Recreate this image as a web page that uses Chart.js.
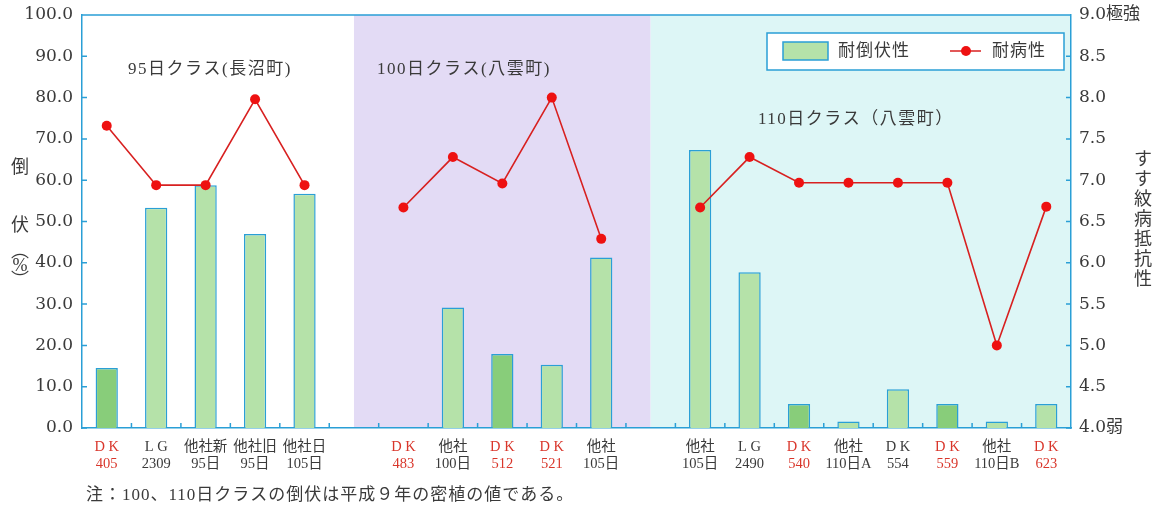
<!DOCTYPE html>
<html lang="ja">
<head>
<meta charset="utf-8">
<script src="https://cdn.jsdelivr.net/npm/chart.js@4/dist/chart.umd.min.js"></script>
<style>
  html, body { margin: 0; padding: 0; background: #fff; }
  #wrap { width: 1162px; height: 510px; position: relative; }
</style>
</head>
<body>
<div id="wrap"><canvas id="chart"></canvas></div>
<script>
// ==========================
// DATA
// ==========================
const varieties = [
  ["D K", "405"], ["L G", "2309"], ["他社新", "95日"], ["他社旧", "95日"], ["他社日", "105日"],
  ["", ""],
  ["D K", "483"], ["他社", "100日"], ["D K", "512"], ["D K", "521"], ["他社", "105日"],
  ["", ""],
  ["他社", "105日"], ["L G", "2490"], ["D K", "540"], ["他社", "110日A"],
  ["D K", "554"], ["D K", "559"], ["他社", "110日B"], ["D K", "623"],
];
// lodging (%) - left axis
const lodging = [14.5, 53.3, 58.8, 47.0, 56.7, null, null, 29.2, 17.9, 15.3, 41.3, null,
  67.3, 37.7, 5.8, 1.6, 9.4, 5.8, 1.6, 5.8];
// leaf blight resistance - right axis
const resistance = [7.66, 6.94, 6.94, 7.98, 6.94, null, 6.67, 7.28, 6.96, 8.0, 6.29, null,
  6.67, 7.28, 6.97, 6.97, 6.97, 6.97, 5.0, 6.68];
const redLabels = [0, 6, 8, 9, 14, 17, 19];   // own varieties shown in red
const darkBars = [0, 8, 14, 17];
const groupLabels = ["95日クラス(長沼町)", "100日クラス(八雲町)", "110日クラス（八雲町）"];
const leftTicks = { min: 0, max: 100, step: 10 };
const rightTicks = { min: 4, max: 9, step: 0.5 };

// ==========================
// STYLE
// ==========================
const AXIS = "#2a9fd6";
const TEXT = "#3a3a3a";
const RED_TXT = "#d9362b";
const NUM_FONT = '"DejaVu Serif", "Noto Sans CJK JP", serif';
const JP_FONT = '"Liberation Serif", "Noto Sans CJK JP", serif';

const barColors = lodging.map((v, i) => (darkBars.includes(i) ? "#88cd7a" : "#b5e2a9"));

// ==========================
// DECORATION PLUGIN
// ==========================
const decor = {
  id: "decor",
  beforeDraw(chart) {
    const { ctx, chartArea: a, scales: { x } } = chart;
    const b1 = x.getPixelForValue(5);
    const b2 = x.getPixelForValue(11);
    ctx.save();
    ctx.fillStyle = "#ffffff";
    ctx.fillRect(a.left, a.top, b1 - a.left, a.bottom - a.top);
    ctx.fillStyle = "#e3dbf5";
    ctx.fillRect(b1, a.top, b2 - b1, a.bottom - a.top);
    ctx.fillStyle = "#ddf6f6";
    ctx.fillRect(b2, a.top, a.right - b2, a.bottom - a.top);
    ctx.restore();
  },
  afterDraw(chart) {
    const { ctx, chartArea: a, scales: { x, y, y1 } } = chart;
    ctx.save();

    // top frame + inside tick marks
    ctx.strokeStyle = AXIS;
    ctx.lineWidth = 1.5;
    ctx.beginPath();
    ctx.moveTo(a.left, a.top);
    ctx.lineTo(a.right, a.top);
    const step = x.getPixelForValue(1) - x.getPixelForValue(0);
    for (let i = 1; i < varieties.length; i++) {
      const px = x.getPixelForValue(i) - step / 2;
      ctx.moveTo(px, a.bottom);
      ctx.lineTo(px, a.bottom - 5);
    }
    for (let v = leftTicks.min; v <= leftTicks.max; v += leftTicks.step) {
      const py = y.getPixelForValue(v);
      ctx.moveTo(a.left, py);
      ctx.lineTo(a.left + 5, py);
    }
    for (let v = rightTicks.min; v <= rightTicks.max; v += rightTicks.step) {
      const py = y1.getPixelForValue(v);
      ctx.moveTo(a.right, py);
      ctx.lineTo(a.right - 5, py);
    }
    ctx.stroke();

    // group titles
    ctx.fillStyle = TEXT;
    ctx.font = "17px " + JP_FONT;
    ctx.textBaseline = "middle";
    ctx.textAlign = "left";
    ctx.letterSpacing = "1.5px";
    ctx.fillText(groupLabels[0], 128, 70);
    ctx.fillText(groupLabels[1], 377, 70);
    ctx.fillText(groupLabels[2], 758, 120);

    // footnote
    ctx.font = "17px " + JP_FONT;
    ctx.letterSpacing = "1px";
    ctx.fillText("注：100、110日クラスの倒伏は平成９年の密植の値である。", 86, 496);
    ctx.letterSpacing = "0px";

    // left axis title (vertical)
    ctx.textAlign = "center";
    ctx.font = "18px " + JP_FONT;
    ctx.fillText("倒", 20, 168);
    ctx.fillText("伏", 20, 226);
    ctx.fillText("︵", 20, 252);
    ctx.fillText("%", 20, 266);
    ctx.fillText("︶", 20, 281);

    // right axis title (vertical)
    ctx.font = "18px " + JP_FONT;
    "すす紋病抵抗性".split("").forEach((ch, i) => {
      ctx.fillText(ch, 1143, 160 + i * 20);
    });

    // legend box
    ctx.fillStyle = "#ffffff";
    ctx.fillRect(767, 33, 297, 37);
    ctx.strokeStyle = AXIS;
    ctx.lineWidth = 1.5;
    ctx.strokeRect(767, 33, 297, 37);
    ctx.fillStyle = "#b5e2a9";
    ctx.fillRect(783, 42, 45, 18);
    ctx.strokeRect(783, 42, 45, 18);
    ctx.fillStyle = TEXT;
    ctx.textAlign = "left";
    ctx.font = "17px " + JP_FONT;
    ctx.letterSpacing = "1px";
    ctx.fillText("耐倒伏性", 838, 52);
    ctx.fillText("耐病性", 992, 52);
    ctx.letterSpacing = "0px";
    ctx.strokeStyle = "#d82020";
    ctx.beginPath();
    ctx.moveTo(950, 51);
    ctx.lineTo(981, 51);
    ctx.stroke();
    ctx.fillStyle = "#ee1111";
    ctx.beginPath();
    ctx.arc(966, 51, 5, 0, Math.PI * 2);
    ctx.fill();

    ctx.restore();
  },
};

// ==========================
// CHART
// ==========================
new Chart(document.getElementById("chart"), {
  data: {
    labels: varieties,
    datasets: [
      {
        type: "line",
        label: "耐病性",
        data: resistance,
        yAxisID: "y1",
        borderColor: "#d82020",
        borderWidth: 1.6,
        pointRadius: 5,
        pointBackgroundColor: "#ee1111",
        pointBorderWidth: 0,
        spanGaps: false,
        tension: 0,
        order: 0,
      },
      {
        type: "bar",
        label: "耐倒伏性",
        data: lodging,
        yAxisID: "y",
        backgroundColor: barColors,
        borderColor: AXIS,
        borderWidth: 1.5,
        borderSkipped: "bottom",
        categoryPercentage: 1,
        barPercentage: 0.45,
        order: 1,
      },
    ],
  },
  options: {
    responsive: true,
    maintainAspectRatio: false,
    animation: false,
    layout: { padding: { top: 15, left: 0, right: 0, bottom: 0 } },
    plugins: { legend: { display: false }, tooltip: { enabled: false } },
    scales: {
      x: {
        afterFit: (s) => { s.height = 82; },
        grid: { display: false, drawTicks: false },
        border: { display: true, color: AXIS, width: 1.5 },
        ticks: {
          padding: 10,
          autoSkip: false,
          maxRotation: 0,
          font: { family: JP_FONT, size: 14.5, lineHeight: 1.2 },
          color: (c) => (redLabels.includes(c.index) ? RED_TXT : TEXT),
        },
      },
      y: {
        position: "left",
        min: leftTicks.min,
        max: leftTicks.max,
        afterFit: (s) => { s.width = 82; s.paddingTop = 0; s.paddingBottom = 0; },
        grid: { display: false, drawTicks: false },
        border: { display: true, color: AXIS, width: 1.5 },
        ticks: {
          stepSize: leftTicks.step,
          padding: 9,
          color: TEXT,
          font: { family: NUM_FONT, size: 17, lineHeight: 1 },
          callback: (v) => v.toFixed(1),
        },
      },
      y1: {
        position: "right",
        min: rightTicks.min,
        max: rightTicks.max,
        afterFit: (s) => { s.width = 91; s.paddingTop = 0; s.paddingBottom = 0; },
        grid: { display: false, drawTicks: false },
        border: { display: true, color: AXIS, width: 1.5 },
        ticks: {
          stepSize: rightTicks.step,
          padding: 8,
          color: TEXT,
          font: { family: NUM_FONT, size: 17, lineHeight: 1 },
          callback: (v) => {
            if (v === 9) return "9.0極強";
            if (v === 4) return "4.0弱";
            return v.toFixed(1);
          },
        },
      },
    },
  },
  plugins: [decor],
});
</script>
</body>
</html>
